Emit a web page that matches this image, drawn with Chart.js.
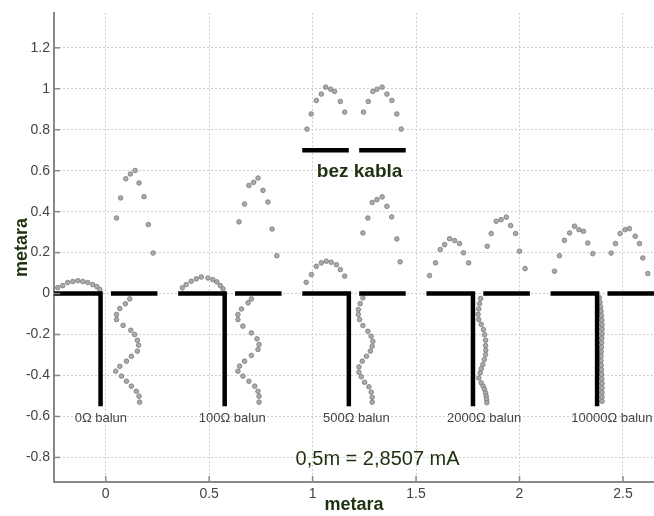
<!DOCTYPE html>
<html>
<head>
<meta charset="utf-8">
<script src="https://cdn.jsdelivr.net/npm/chart.js@4.4.0/dist/chart.umd.min.js"></script>
<style>
  html, body { margin: 0; padding: 0; background: #fff; overflow: hidden; }
  canvas { display: block; }
</style>
</head>
<body>
<canvas id="balunChart" width="654" height="516"></canvas>
<script>
// raspodjela struje po anteni za razlicite balune
const balunLabels = ['0Ω balun', '100Ω balun', '500Ω balun', '2000Ω balun', '10000Ω balun'];
const groupCenters = [0, 0.6, 1.2, 1.8, 2.4];

// antena: lijevi krak + kabel prema dolje, desni krak
const antennaLines = [
    [[-0.25, 0], [-0.025, 0], [-0.025, -0.55]], [[0.025, 0], [0.25, 0]],
    [[0.35, 0], [0.575, 0], [0.575, -0.55]], [[0.625, 0], [0.85, 0]],
    [[0.95, 0], [1.175, 0], [1.175, -0.55]], [[1.225, 0], [1.45, 0]],
    [[1.55, 0], [1.775, 0], [1.775, -0.55]], [[1.825, 0], [2.05, 0]],
    [[2.15, 0], [2.375, 0], [2.375, -0.55]], [[2.425, 0], [2.65, 0]],
    // bez kabla
    [[0.95, 0.7], [1.175, 0.7]], [[1.225, 0.7], [1.45, 0.7]]
];

// 0 ohm
const leftArm0 = [[-0.232, 0.029], [-0.208, 0.039], [-0.184, 0.054], [-0.159, 0.059], [-0.135, 0.063],
    [-0.111, 0.059], [-0.087, 0.054], [-0.063, 0.044], [-0.043, 0.034], [-0.029, 0.020]];
const rightArm0 = [[0.052, 0.369], [0.072, 0.467], [0.097, 0.561], [0.119, 0.584], [0.142, 0.601],
    [0.161, 0.540], [0.185, 0.473], [0.206, 0.337], [0.229, 0.198]];
const cable0 = [[0.116, -0.026], [0.095, -0.050], [0.068, -0.073], [0.052, -0.102], [0.052, -0.127],
    [0.084, -0.155], [0.121, -0.179], [0.140, -0.200], [0.153, -0.228], [0.159, -0.252], [0.153, -0.281],
    [0.124, -0.306], [0.100, -0.330], [0.068, -0.355], [0.048, -0.379], [0.076, -0.403], [0.100, -0.428],
    [0.124, -0.452], [0.148, -0.477], [0.161, -0.501], [0.164, -0.530]];

// 100 ohm
const leftArm1 = [[0.370, 0.028], [0.389, 0.044], [0.413, 0.060], [0.438, 0.072], [0.462, 0.081],
    [0.494, 0.076], [0.518, 0.068], [0.537, 0.057], [0.554, 0.039], [0.567, 0.023]];
const rightArm1 = [[0.644, 0.350], [0.671, 0.437], [0.692, 0.528], [0.715, 0.543], [0.736, 0.564],
    [0.760, 0.504], [0.784, 0.447], [0.804, 0.315], [0.827, 0.185]];
const cable1 = [[0.704, -0.026], [0.688, -0.045], [0.656, -0.075], [0.639, -0.102], [0.639, -0.127],
    [0.663, -0.159], [0.704, -0.192], [0.731, -0.221], [0.741, -0.249], [0.736, -0.273], [0.704, -0.302],
    [0.671, -0.330], [0.647, -0.354], [0.639, -0.379], [0.663, -0.403], [0.692, -0.428], [0.720, -0.452],
    [0.736, -0.477], [0.741, -0.501], [0.741, -0.530]];

// 500 ohm
const leftArm2 = [[0.969, 0.055], [0.994, 0.093], [1.018, 0.133], [1.042, 0.150], [1.066, 0.158],
    [1.090, 0.153], [1.115, 0.141], [1.134, 0.117], [1.155, 0.085]];
const rightArm2 = [[1.243, 0.296], [1.267, 0.369], [1.288, 0.445], [1.311, 0.459], [1.336, 0.472],
    [1.359, 0.426], [1.382, 0.374], [1.407, 0.267], [1.423, 0.155]];
const cable2 = [[1.243, -0.021], [1.230, -0.049], [1.221, -0.078], [1.221, -0.102], [1.227, -0.127],
    [1.243, -0.156], [1.267, -0.184], [1.283, -0.208], [1.291, -0.233], [1.288, -0.257], [1.279, -0.281],
    [1.260, -0.306], [1.240, -0.330], [1.224, -0.358], [1.224, -0.384], [1.235, -0.406], [1.251, -0.433],
    [1.272, -0.455], [1.283, -0.481], [1.288, -0.506], [1.288, -0.530]];

// bez kabla
const freeLeft = [[0.973, 0.803], [0.993, 0.877], [1.018, 0.943], [1.042, 0.974], [1.063, 1.008],
    [1.087, 0.998], [1.106, 0.987], [1.134, 0.938], [1.155, 0.886]];
const freeRight = [[1.246, 0.886], [1.269, 0.938], [1.291, 0.987], [1.311, 0.998], [1.336, 1.008],
    [1.359, 0.974], [1.383, 0.943], [1.407, 0.877], [1.428, 0.803]];

// 2000 ohm
const leftArm3 = [[1.565, 0.088], [1.594, 0.150], [1.617, 0.215], [1.638, 0.239], [1.662, 0.268],
    [1.686, 0.259], [1.710, 0.244], [1.729, 0.199], [1.754, 0.150]];
const rightArm3 = [[1.844, 0.231], [1.863, 0.293], [1.887, 0.353], [1.911, 0.361], [1.936, 0.373],
    [1.957, 0.332], [1.981, 0.293], [2.000, 0.207], [2.027, 0.122]];
const cable3 = [[1.812, -0.024], [1.807, -0.049], [1.803, -0.075], [1.800, -0.101], [1.803, -0.127],
    [1.815, -0.151], [1.826, -0.176], [1.831, -0.201], [1.836, -0.228], [1.836, -0.254], [1.837, -0.276],
    [1.836, -0.298], [1.830, -0.322], [1.823, -0.346], [1.815, -0.367], [1.810, -0.387], [1.803, -0.412],
    [1.815, -0.436], [1.824, -0.452], [1.831, -0.468], [1.836, -0.485], [1.839, -0.501], [1.841, -0.517],
    [1.842, -0.533]];

// 10000 ohm
const leftArm4 = [[2.169, 0.109], [2.193, 0.185], [2.217, 0.260], [2.242, 0.296], [2.266, 0.329],
    [2.287, 0.312], [2.309, 0.304], [2.330, 0.247], [2.354, 0.195]];
const rightArm4 = [[2.443, 0.198], [2.464, 0.244], [2.486, 0.293], [2.510, 0.312], [2.531, 0.317],
    [2.559, 0.280], [2.580, 0.244], [2.596, 0.174], [2.620, 0.098]];
const cable4 = [[2.386, -0.020], [2.389, -0.042], [2.392, -0.064], [2.394, -0.086], [2.396, -0.108],
    [2.398, -0.130], [2.399, -0.152], [2.399, -0.174], [2.399, -0.196], [2.398, -0.218], [2.397, -0.240],
    [2.396, -0.262], [2.395, -0.284], [2.394, -0.306], [2.394, -0.328], [2.395, -0.350], [2.396, -0.372],
    [2.397, -0.394], [2.398, -0.416], [2.399, -0.438], [2.399, -0.460], [2.399, -0.482], [2.399, -0.504],
    [2.399, -0.526]];

const currentSeries = [leftArm0, rightArm0, cable0, leftArm1, rightArm1, cable1, leftArm2, rightArm2, cable2,
    freeLeft, freeRight, leftArm3, rightArm3, cable3, leftArm4, rightArm4, cable4];

const GREEN = '#1e3210';
const FONT = '"Liberation Sans", Arial, sans-serif';

function toPoints(arr) {
    return arr.map(p => ({ x: p[0], y: p[1] }));
}

// 1.0 -> "1", 0.50 -> "0.5"
function tickText(value) {
    return String(Number(value.toFixed(2)));
}

const datasets = [];
antennaLines.forEach(line => {
    datasets.push({
        data: toPoints(line),
        showLine: true,
        borderColor: '#000',
        borderWidth: 4.5,
        borderCapStyle: 'butt',
        borderJoinStyle: 'miter',
        pointRadius: 0,
        fill: false
    });
});
currentSeries.forEach(s => {
    datasets.push({
        data: toPoints(s),
        showLine: false,
        pointRadius: 2.3,
        pointBackgroundColor: '#ababab',
        pointBorderColor: '#777',
        pointBorderWidth: 0.8
    });
});

// tekstovi i unutarnje crtice na osima
const annotatePlugin = {
    id: 'annotate',
    afterDraw(chart) {
        const { ctx, scales: { x, y }, chartArea } = chart;
        ctx.save();

        ctx.strokeStyle = '#888';
        ctx.lineWidth = 1.5;
        y.ticks.forEach(t => {
            const py = y.getPixelForValue(t.value);
            ctx.beginPath();
            ctx.moveTo(chartArea.left, py);
            ctx.lineTo(chartArea.left + 6, py);
            ctx.stroke();
        });
        x.ticks.forEach(t => {
            const px = x.getPixelForValue(t.value);
            ctx.beginPath();
            ctx.moveTo(px, chartArea.bottom);
            ctx.lineTo(px, chartArea.bottom - 6);
            ctx.stroke();
        });

        ctx.fillStyle = '#444';
        ctx.font = '13px ' + FONT;
        ctx.textAlign = 'left';
        ctx.textBaseline = 'middle';
        balunLabels.forEach((label, i) => {
            ctx.fillText(label, x.getPixelForValue(groupCenters[i] - 0.15), y.getPixelForValue(-0.61));
        });

        ctx.fillStyle = GREEN;
        ctx.textAlign = 'center';
        ctx.font = 'bold 19px ' + FONT;
        ctx.fillText('bez kabla', x.getPixelForValue(1.227), y.getPixelForValue(0.595));
        ctx.font = '20px ' + FONT;
        ctx.fillText('0,5m = 2,8507 mA', x.getPixelForValue(1.314), y.getPixelForValue(-0.81));

        ctx.restore();
    }
};

const ctx = document.getElementById('balunChart').getContext('2d');
const balunChart = new Chart(ctx, {
    type: 'scatter',
    data: { datasets: datasets },
    options: {
        responsive: false,
        animation: false,
        layout: { autoPadding: false, padding: { left: 11, top: 13, right: 0, bottom: 0 } },
        plugins: {
            legend: { display: false },
            tooltip: { enabled: false }
        },
        scales: {
            x: {
                type: 'linear',
                min: -0.25,
                max: 2.65,
                afterFit: scale => {
                    scale.height = 34;
                    scale.paddingLeft = 0;
                    scale.paddingRight = 0;
                },
                ticks: { stepSize: 0.5, includeBounds: false, padding: 4, color: '#444',
                    font: { size: 14, family: FONT }, callback: tickText },
                grid: { color: '#cfcfcf', lineWidth: 1, drawTicks: false },
                border: { color: '#888', width: 2, dash: [2, 2] },
                title: { display: true, text: 'metara', color: GREEN, padding: 0,
                    font: { size: 18, weight: 'bold', family: FONT } }
            },
            y: {
                type: 'linear',
                min: -0.92,
                max: 1.37,
                afterFit: scale => {
                    scale.width = 43;
                    scale.paddingTop = 0;
                    scale.paddingBottom = 0;
                },
                ticks: { stepSize: 0.2, includeBounds: false, padding: 4, color: '#444',
                    font: { size: 14, family: FONT }, callback: tickText },
                grid: { color: '#cfcfcf', lineWidth: 1, drawTicks: false },
                border: { color: '#888', width: 2, dash: [2, 2] },
                title: { display: true, text: 'metara', color: GREEN, padding: 0,
                    font: { size: 18, weight: 'bold', family: FONT } }
            }
        }
    },
    plugins: [annotatePlugin]
});
</script>
</body>
</html>
